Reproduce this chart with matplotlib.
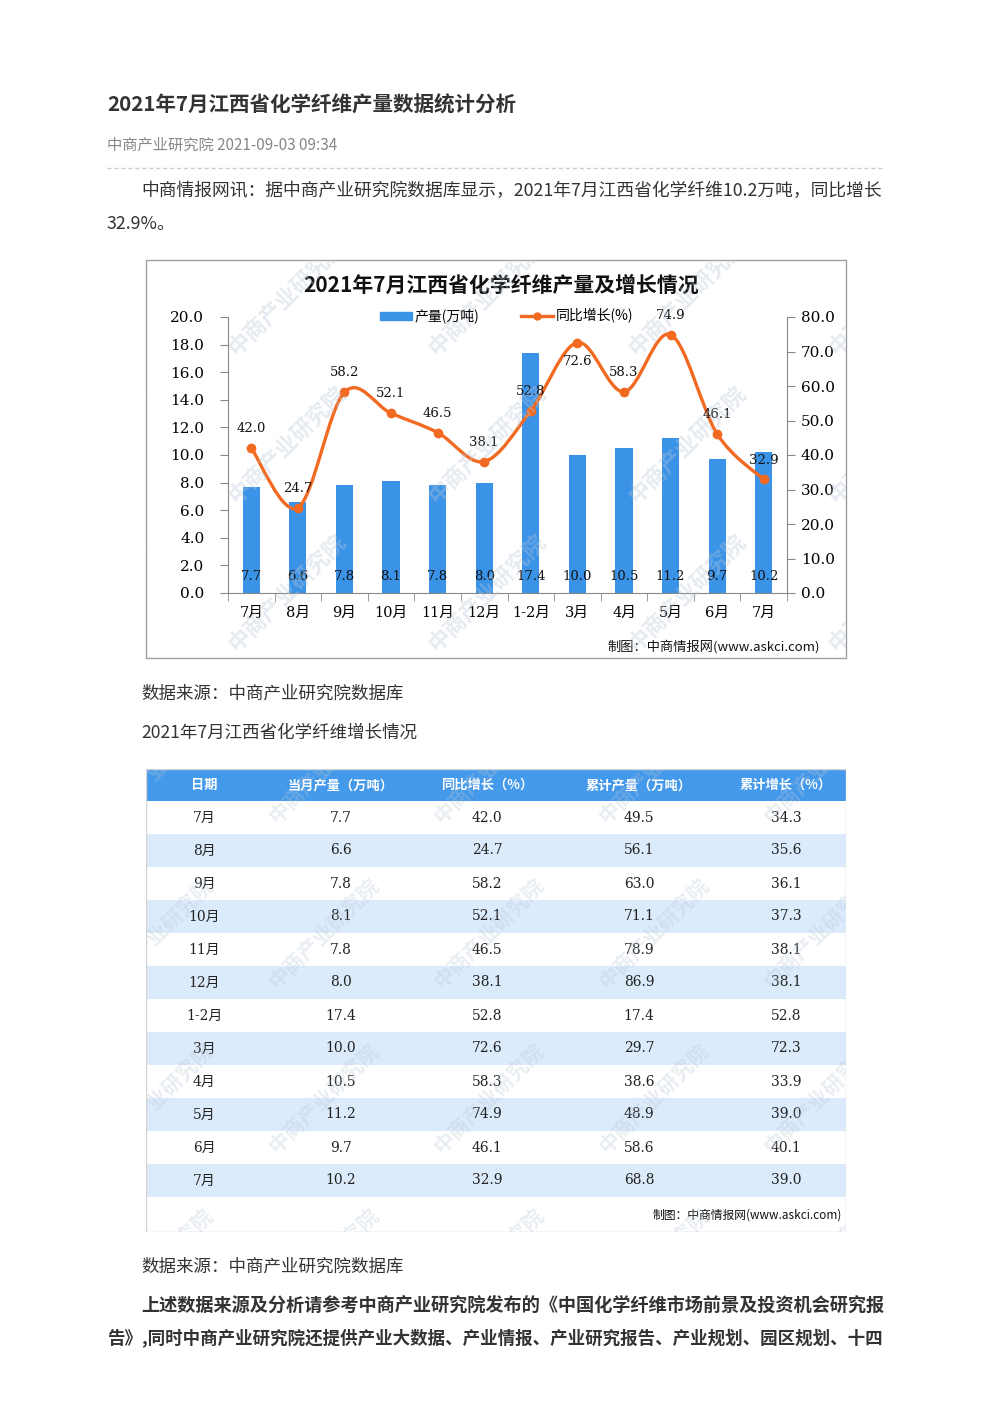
import numpy as np
import matplotlib.pyplot as plt
from matplotlib.path import Path
from matplotlib.patches import PathPatch, Rectangle
from matplotlib.lines import Line2D

plt.rcParams['font.family'] = ['Noto Sans CJK SC', 'DejaVu Sans']

months = ['7月', '8月', '9月', '10月', '11月', '12月', '1-2月', '3月', '4月', '5月', '6月', '7月']
output = [7.7, 6.6, 7.8, 8.1, 7.8, 8.0, 17.4, 10.0, 10.5, 11.2, 9.7, 10.2]
yoy = [42.0, 24.7, 58.2, 52.1, 46.5, 38.1, 52.8, 72.6, 58.3, 74.9, 46.1, 32.9]
cum_output = [49.5, 56.1, 63.0, 71.1, 78.9, 86.9, 17.4, 29.7, 38.6, 48.9, 58.6, 68.8]
cum_growth = [34.3, 35.6, 36.1, 37.3, 38.1, 38.1, 52.8, 72.3, 33.9, 39.0, 40.1, 39.0]
header = ['日期', '当月产量（万吨）', '同比增长（%）', '累计产量（万吨）', '累计增长（%）']

BLUE = '#3b93e8'
ORANGE = '#f26a22'
TXT = '#333333'
NUM = ['DejaVu Serif', 'Noto Sans CJK SC']

W, H = 992, 1403
fig = plt.figure(figsize=(W / 100, H / 100), dpi=100)


def fx(px):
    return px / W


def fy(py):
    return 1 - py / H


# ---- article text ----
fig.text(fx(107), fy(105), '2021年7月江西省化学纤维产量数据统计分析', fontsize=14.8,
         fontweight='bold', color=TXT, va='center')
fig.text(fx(107), fy(145), '中商产业研究院 2021-09-03 09:34', fontsize=11, color='#888888', va='center')
fig.add_artist(Line2D([fx(107), fx(885)], [fy(168), fy(168)], transform=fig.transFigure,
                      color='#cccccc', lw=1, ls=(0, (3, 2))))
fig.text(fx(141), fy(191), '中商情报网讯：据中商产业研究院数据库显示，2021年7月江西省化学纤维10.2万吨，同比增长',
         fontsize=12.8, color=TXT, va='center')
fig.text(fx(107), fy(224), '32.9%。', fontsize=12.8, color=TXT, va='center')
fig.text(fx(141), fy(694), '数据来源：中商产业研究院数据库', fontsize=12.6, color=TXT, va='center')
fig.text(fx(141), fy(733), '2021年7月江西省化学纤维增长情况', fontsize=12.6, color=TXT, va='center')
fig.text(fx(141), fy(1267), '数据来源：中商产业研究院数据库', fontsize=12.6, color=TXT, va='center')
fig.text(fx(141), fy(1306), '上述数据来源及分析请参考中商产业研究院发布的《中国化学纤维市场前景及投资机会研究报',
         fontsize=13.1, fontweight='bold', color=TXT, va='center')
fig.text(fx(107), fy(1338), '告》,同时中商产业研究院还提供产业大数据、产业情报、产业研究报告、产业规划、园区规划、十四',
         fontsize=12.6, fontweight='bold', color=TXT, va='center')

# ---- chart ----
fig.add_artist(Rectangle((fx(146), fy(658)), fx(846) - fx(146), fy(260) - fy(658),
                         transform=fig.transFigure, fill=False, ec='#a0a0a0', lw=1))
fig.text(fx(501), fy(285), '2021年7月江西省化学纤维产量及增长情况', fontsize=15,
         fontweight='bold', color='#111111', ha='center', va='center')
fig.text(fx(820), fy(647), '制图：中商情报网(www.askci.com)', fontsize=9.5, color='#111111',
         ha='right', va='center')

ax = fig.add_axes([fx(228), fy(593), fx(787) - fx(228), fy(317) - fy(593)])
x = np.arange(len(months))
ax.bar(x, output, width=0.37, color=BLUE, zorder=2)
ax.set_xlim(-0.5, len(months) - 0.5)
ax.set_ylim(0, 20)
yt = np.arange(0, 20.1, 2)
ax.set_yticks(yt, labels=[f'{v:.1f}' for v in yt], fontfamily='DejaVu Serif', fontsize=11)
ax.set_xticks(x, labels=months, fontfamily=NUM, fontsize=10.5)
ax.set_xticks(np.arange(-0.5, len(months)), minor=True)
ax.tick_params(axis='x', which='major', length=0, pad=9)
ax.tick_params(axis='x', which='minor', length=6, color='#888888')
ax.tick_params(axis='y', length=6, color='#888888', pad=11)
for s in ['top', 'right']:
    ax.spines[s].set_visible(False)
for s in ['left', 'bottom']:
    ax.spines[s].set_color('#888888')
for i, v in enumerate(output):
    ax.annotate(f'{v:.1f}', (i, 0), xytext=(0, 12), textcoords='offset points',
                ha='center', va='center', fontsize=9.5, fontfamily='DejaVu Serif', color='#111111')

ax2 = ax.twinx()
ax2.set_ylim(0, 80)
yt2 = np.arange(0, 80.1, 10)
ax2.set_yticks(yt2, labels=[f'{v:.1f}' for v in yt2], fontfamily='DejaVu Serif', fontsize=11)
ax2.tick_params(axis='y', length=6, color='#888888', pad=4)
for s in ['top', 'left', 'bottom']:
    ax2.spines[s].set_visible(False)
ax2.spines['right'].set_color('#888888')

# smoothed line (catmull-rom -> cubic bezier)
pts = np.column_stack([x, yoy]).astype(float)
n = len(pts)
verts = [pts[0]]
codes = [Path.MOVETO]
for i in range(n - 1):
    p0, p1, p2, p3 = pts[max(i - 1, 0)], pts[i], pts[i + 1], pts[min(i + 2, n - 1)]
    verts += [p1 + (p2 - p0) / 6, p2 - (p3 - p1) / 6, p2]
    codes += [Path.CURVE4] * 3
ax2.add_patch(PathPatch(Path(verts, codes), fill=False, ec=ORANGE, lw=2.4, capstyle='round', zorder=3))
ax2.plot(x, yoy, 'o', color=ORANGE, ms=6, zorder=4)
for i, v in enumerate(yoy):
    dy = -14 if months[i] == '3月' else 14
    ax2.annotate(f'{v:.1f}', (i, v), xytext=(0, dy), textcoords='offset points',
                 ha='center', va='center', fontsize=9.5, fontfamily='DejaVu Serif', color='#111111')

handles = [Rectangle((0, 0), 1, 1, color=BLUE),
           Line2D([], [], color=ORANGE, lw=2.4, marker='o', ms=5)]
fig.legend(handles, ['产量(万吨)', '同比增长(%)'], loc='center', bbox_to_anchor=(fx(507), fy(316)),
           ncol=2, frameon=False, fontsize=10, handlelength=2.3, handleheight=0.5,
           columnspacing=3, handletextpad=0.2)

# watermarks over chart
wm = fig.add_axes([fx(146), fy(658), fx(846) - fx(146), fy(260) - fy(658)], zorder=5)
wm.set_xlim(0, 700)
wm.set_ylim(398, 0)
wm.axis('off')
wm.patch.set_alpha(0)
for gx in [-114, 86, 286, 486, 686]:
    for gy in [92, 240, 388, 536]:
        wm.text(gx, gy, '中商产业研究院', rotation=45, rotation_mode='anchor', fontsize=16,
                fontweight='bold', color='#b8c6d8', alpha=0.35, ha='left', va='center', clip_on=True)

# ---- table ----
tx0, tx1, ty0, ty1 = 146, 846, 769, 1232
tax = fig.add_axes([fx(tx0), fy(ty1), fx(tx1) - fx(tx0), fy(ty0) - fy(ty1)])
tax.set_xlim(0, tx1 - tx0)
tax.set_ylim(ty1 - ty0, 0)
tax.axis('off')
col_x = [58, 195, 341, 493, 640]
hh, rh = 32, 33
tax.add_patch(Rectangle((0, 0), tx1 - tx0, hh, color='#4499ea', lw=0))
for cx, h in zip(col_x, header):
    tax.text(cx, hh / 2, h, ha='center', va='center', fontsize=9.5, fontweight='bold', color='white')
for i in range(len(months)):
    y0 = hh + rh * i
    if i % 2 == 1:
        tax.add_patch(Rectangle((0, y0), tx1 - tx0, rh, color='#dcebfb', lw=0))
    row = [months[i], f'{output[i]:.1f}', f'{yoy[i]:.1f}', f'{cum_output[i]:.1f}', f'{cum_growth[i]:.1f}']
    for cx, t in zip(col_x, row):
        tax.text(cx, y0 + rh / 2, t, ha='center', va='center', fontsize=10, fontfamily=NUM, color='#222222')
tax.text(696, 446, '制图：中商情报网(www.askci.com)', ha='right', va='center', fontsize=8.5,
         fontfamily=['Noto Sans CJK SC', 'DejaVu Sans'], color='#111111')
tax.add_patch(Rectangle((0, 0), tx1 - tx0, ty1 - ty0, fill=False, ec='#d4d4d4', lw=1))
for gx in [-40, 126, 291, 456, 621]:
    for gy in [51, 216, 381, 546]:
        tax.text(gx, gy, '中商产业研究院', rotation=45, rotation_mode='anchor', fontsize=15,
                 fontweight='bold', color='#b8c6d8', alpha=0.3, ha='left', va='center', clip_on=True)

fig.savefig('out.png', dpi=100, facecolor='white')
